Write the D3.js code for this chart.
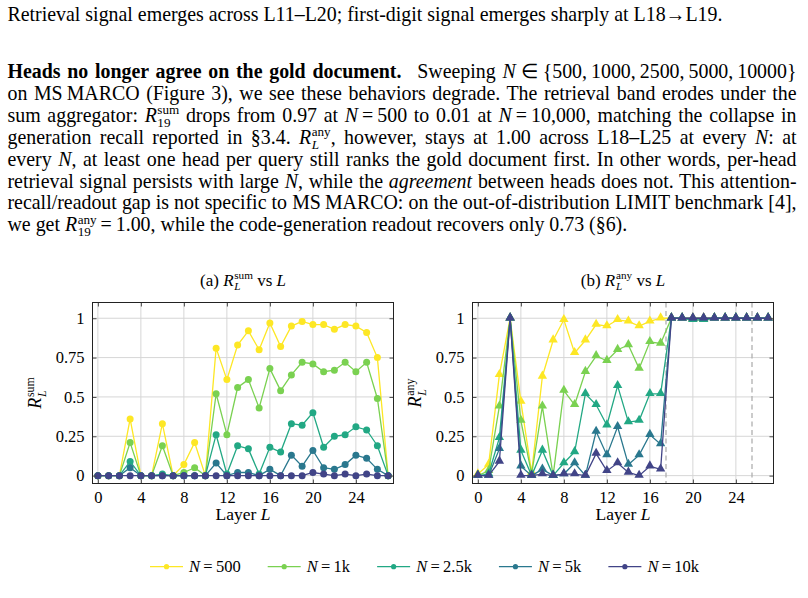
<!DOCTYPE html>
<html>
<head>
<meta charset="utf-8">
<script src="https://cdn.jsdelivr.net/npm/d3@7"></script>
<style>
body { margin: 0; background: #fff; width: 808px; height: 598px; overflow: hidden; position: relative;
       font-family: "Liberation Serif", "Times New Roman", serif; color: #000; }
#text { position: absolute; left: 7.5px; top: 0; width: 789px; font-size: 19.9px; }
.ln { position: absolute; left: 0; top: 0; white-space: nowrap; display: inline-block; line-height: 22px; }
.probe { display: inline-block; width: 0; height: 0; vertical-align: baseline; }
.ss { display: inline-block; font-size: 0.66em; line-height: 0.95; vertical-align: -5px; text-align: left; margin-left: 0.04em; }
.ss span { display: block; }
.it { font-style: italic; }
.q { display: inline-block; width: 0.8em; }
svg { position: absolute; left: 0; top: 0; }
svg text { font-family: "Liberation Serif", "Times New Roman", serif; fill: #000; }
</style>
</head>
<body>
<div id="text"></div>
<svg id="fig" width="808" height="598"></svg>
<script>
// Layers on the x axis
var layers = [0, 1, 2, 3, 4, 5, 6, 7, 8, 9, 10, 11, 12, 13, 14, 15, 16, 17, 18, 19, 20, 21, 22, 23, 24, 25, 26, 27];
var xTicks = [0, 4, 8, 12, 16, 20, 24];
var yTicks = [0, 0.25, 0.5, 0.75, 1];
var yTickLabels = ["0", "0.25", "0.5", "0.75", "1"];
var legendValues = ["500", "1k", "2.5k", "5k", "10k"];
var colors = ["#fde725", "#7ad151", "#22a884", "#2a788e", "#414487"];
var dashedLayers = [17.5, 25.5];

// (a) R_L^sum
var sumN500  = [0, 0, 0, 0.36, 0, 0, 0.33, 0, 0.07, 0.21, 0, 0.81, 0.61, 0.83, 0.92, 0.80, 0.97, 0.82, 0.95, 0.98, 0.96, 0.96, 0.93, 0.96, 0.95, 0.91, 0.75, 0];
var sumN1k   = [0, 0, 0, 0.21, 0, 0, 0.19, 0, 0.02, 0.05, 0, 0.52, 0.26, 0.56, 0.61, 0.43, 0.68, 0.54, 0.64, 0.72, 0.71, 0.66, 0.67, 0.72, 0.66, 0.72, 0.49, 0];
var sumN2500 = [0, 0, 0, 0.09, 0, 0, 0.01, 0, 0, 0, 0, 0.26, 0.01, 0.19, 0.17, 0.01, 0.18, 0.15, 0.33, 0.32, 0.40, 0.18, 0.25, 0.26, 0.31, 0.29, 0.19, 0];
var sumN5k   = [0, 0, 0, 0.05, 0, 0, 0, 0, 0, 0, 0, 0.08, 0, 0.02, 0.02, 0, 0.04, 0, 0.13, 0.06, 0.16, 0.05, 0.04, 0.07, 0.13, 0.11, 0.04, 0];
var sumN10k  = [0, 0, 0, 0, 0, 0, 0, 0, 0, 0, 0, 0, 0, 0, 0, 0, 0, 0, 0, 0, 0.02, 0.01, 0, 0.01, 0, 0.01, 0, 0];

// (b) R_L^any
var anyN500  = [0.01, 0.07, 0.64, 1, 0.47, 0.02, 0.63, 0.86, 0.99, 0.78, 0.86, 0.96, 0.95, 0.99, 0.98, 0.95, 0.98, 1, 1, 1, 1, 1, 1, 1, 1, 1, 1, 1];
var anyN1k   = [0, 0.03, 0.44, 1, 0.35, 0.01, 0.44, 0, 0.54, 0.45, 0.66, 0.76, 0.73, 0.80, 0.83, 0.68, 0.85, 0.84, 1, 1, 0.99, 0.99, 1, 1, 1, 1, 1, 1];
var anyN2500 = [0, 0.01, 0.24, 1, 0.16, 0, 0.16, 0, 0.08, 0.15, 0.52, 0.45, 0.32, 0.57, 0.34, 0.35, 0.52, 0.52, 1, 1, 0.99, 0.99, 1, 1, 1, 1, 1, 1];
var anyN5k   = [0, 0, 0.17, 1, 0.06, 0, 0.04, 0, 0.01, 0.08, 0, 0.28, 0.13, 0.31, 0.07, 0.13, 0.26, 0.20, 1, 1, 1, 1, 1, 1, 1, 1, 1, 1];
var anyN10k  = [0, 0, 0.09, 1, 0, 0, 0.01, 0, 0.01, 0.01, 0, 0.14, 0.03, 0.08, 0.02, 0, 0.06, 0.04, 1, 1, 1, 1, 1, 1, 1, 1, 1, 1];

// ---------- body text ----------
function R(sup, sub, subIt) {
    return '<i>R</i><span class="ss"><span>' + sup + '</span><span' + (subIt ? ' class="it"' : '') + '>' + sub + '</span></span>';
}
var eq = "\u2009=\u2009";
var lines = [
    'Retrieval signal emerges across L11\u2013L20; first-digit signal emerges sharply at L18\u2192L19.',
    '<b>Heads no longer agree on the gold document.</b><span class="q"></span>Sweeping <i>N</i>\u2005\u2208\u2005{500,\u20091000,\u20092500,\u20095000,\u200910000}',
    'on MS\u2009MARCO (Figure 3), we see these behaviors degrade. The retrieval band erodes under the',
    'sum aggregator: ' + R("sum", "19", false) + ' drops from 0.97 at <i>N</i>' + eq + '500 to 0.01 at <i>N</i>' + eq + '10,000, matching the collapse in',
    'generation recall reported in \u00a73.4. ' + R("any", "L", true) + ', however, stays at 1.00 across L18\u2013L25 at every <i>N</i>: at',
    'every <i>N</i>, at least one head per query still ranks the gold document first. In other words, per-head',
    'retrieval signal persists with large <i>N</i>, while the <i>agreement</i> between heads does not. This attention-',
    'recall/readout gap is not specific to MS\u2009MARCO: on the out-of-distribution LIMIT benchmark [4],',
    'we get ' + R("any", "19", false) + eq + '1.00, while the code-generation readout recovers only 0.73 (\u00a76).'
];
var baselines = [20.5, 78, 99.9, 121.8, 143.7, 165.6, 187.5, 209.4, 231.3];
var justified = [false, true, true, true, true, true, true, true, false];

var textBox = document.getElementById("text");
lines.forEach(function(html, i) {
    var div = document.createElement("div");
    div.className = "ln";
    div.innerHTML = '<span class="probe"></span>' + html;
    textBox.appendChild(div);
    if (justified[i]) {
        var w = div.getBoundingClientRect().width;
        var n = div.textContent.split(" ").length - 1;
        div.style.wordSpacing = ((789 - w) / n) + "px";
    }
    var probeTop = div.querySelector(".probe").getBoundingClientRect().top;
    div.style.top = (baselines[i] - probeTop) + "px";
});

// ---------- figure ----------
var svg = d3.select("#fig");
var plotTop = 302.5, plotBottom = 483.5;
var y = d3.scaleLinear().domain([-0.05, 1.1]).range([plotBottom, plotTop]);

// italic R with stacked superscript / subscript
function mathR(text, sup, sub, fs) {
    text.append("tspan").attr("font-style", "italic").text("R");
    var s = text.append("tspan").attr("font-size", fs * 0.66).attr("dx", fs * 0.04).attr("dy", -fs * 0.4).text(sup);
    var sw = s.node().getComputedTextLength();
    var b = text.append("tspan").attr("font-size", fs * 0.66).attr("font-style", "italic")
        .attr("dx", -sw).attr("dy", fs * 0.66).text(sub);
    var bw = b.node().getComputedTextLength();
    return {dx: Math.max(sw, bw) - bw, dy: -fs * 0.26};
}

var panels = [
    {tag: "(a) ", sup: "sum", left: 92.5, right: 393.5, ylabX: 36, marker: "circle",
     series: [sumN500, sumN1k, sumN2500, sumN5k, sumN10k], dashed: []},
    {tag: "(b) ", sup: "any", left: 472.5, right: 773.5, ylabX: 416, marker: "triangle",
     series: [anyN500, anyN1k, anyN2500, anyN5k, anyN10k], dashed: dashedLayers}
];

panels.forEach(function(p) {
    var x = d3.scaleLinear().domain([-0.5, 27.5]).range([p.left, p.right]);
    var g = svg.append("g");

    // grid
    g.append("g").selectAll("line").data(xTicks).join("line")
        .attr("x1", d => x(d)).attr("x2", d => x(d))
        .attr("y1", plotTop).attr("y2", plotBottom)
        .attr("stroke", "#d6d6d6").attr("stroke-width", 1);
    g.append("g").selectAll("line").data(yTicks).join("line")
        .attr("x1", p.left).attr("x2", p.right)
        .attr("y1", d => y(d)).attr("y2", d => y(d))
        .attr("stroke", "#d6d6d6").attr("stroke-width", 1);

    // dashed markers
    g.append("g").selectAll("line").data(p.dashed).join("line")
        .attr("x1", d => x(d)).attr("x2", d => x(d))
        .attr("y1", plotTop).attr("y2", plotBottom)
        .attr("stroke", "#b0b0b0").attr("stroke-width", 1.3)
        .attr("stroke-dasharray", "5,3.5");

    // series
    var line = d3.line().x((d, i) => x(layers[i])).y(d => y(d));
    var tri = d3.symbol().type(d3.symbolTriangle).size(38);
    p.series.forEach(function(vals, k) {
        g.append("path").datum(vals)
            .attr("d", line)
            .attr("fill", "none")
            .attr("stroke", colors[k])
            .attr("stroke-width", 1.3);
        if (p.marker == "circle") {
            g.append("g").selectAll("circle").data(vals).join("circle")
                .attr("cx", (d, i) => x(layers[i]))
                .attr("cy", d => y(d))
                .attr("r", 3.5)
                .attr("fill", colors[k]);
        } else {
            g.append("g").selectAll("path").data(vals).join("path")
                .attr("d", tri)
                .attr("transform", (d, i) => "translate(" + x(layers[i]) + "," + (y(d) - 0.5) + ")")
                .attr("fill", colors[k]);
        }
    });

    // axes (ticks inside the box)
    var axB = g.append("g").attr("transform", "translate(0," + plotBottom + ")")
        .call(d3.axisBottom(x).tickValues(xTicks).tickSize(-4).tickPadding(7.5));
    var axT = g.append("g").attr("transform", "translate(0," + plotTop + ")")
        .call(d3.axisTop(x).tickValues(xTicks).tickSize(-4).tickFormat(""));
    var axL = g.append("g").attr("transform", "translate(" + p.left + ",0)")
        .call(d3.axisLeft(y).tickValues(yTicks).tickSize(-4).tickPadding(8).tickFormat((d, i) => yTickLabels[i]));
    var axR = g.append("g").attr("transform", "translate(" + p.right + ",0)")
        .call(d3.axisRight(y).tickValues(yTicks).tickSize(-4).tickFormat(""));
    [axB, axT, axL, axR].forEach(function(a) {
        a.select(".domain").remove();
        a.selectAll(".tick line").attr("stroke", "#4a4a4a");
        a.selectAll("text").attr("font-size", 16.5).attr("font-family", null).attr("fill", "#000");
    });

    // frame
    g.append("rect")
        .attr("x", p.left).attr("y", plotTop)
        .attr("width", p.right - p.left).attr("height", plotBottom - plotTop)
        .attr("fill", "none").attr("stroke", "#222").attr("stroke-width", 1);

    var cx = (p.left + p.right) / 2;

    // title
    var fs = 17;
    var t = g.append("text").attr("x", cx).attr("y", 285.5).attr("text-anchor", "middle").attr("font-size", fs);
    t.append("tspan").text(p.tag);
    var r = mathR(t, p.sup, "L", fs);
    t.append("tspan").attr("dx", r.dx).attr("dy", r.dy).text(" vs ");
    t.append("tspan").attr("font-style", "italic").text("L");

    // x label
    var xl = g.append("text").attr("x", cx).attr("y", 520).attr("text-anchor", "middle").attr("font-size", 17.5);
    xl.append("tspan").text("Layer ");
    xl.append("tspan").attr("font-style", "italic").text("L");

    // y label
    var yl = g.append("text").attr("text-anchor", "middle").attr("font-size", 18)
        .attr("transform", "translate(" + (p.ylabX + 5) + "," + ((plotTop + plotBottom) / 2) + ") rotate(-90)");
    mathR(yl, p.sup, "L", 18);
});

// legend
var legend = svg.append("g");
var lx = 150, ly = 566.7;
legendValues.forEach(function(v, k) {
    legend.append("line")
        .attr("x1", lx).attr("x2", lx + 33).attr("y1", ly).attr("y2", ly)
        .attr("stroke", colors[k]).attr("stroke-width", 1.3);
    legend.append("circle").attr("cx", lx + 16.5).attr("cy", ly).attr("r", 2.6).attr("fill", colors[k]);
    var tx = legend.append("text").attr("x", lx + 39).attr("y", ly + 5.5).attr("font-size", 16.5);
    tx.append("tspan").attr("font-style", "italic").text("N");
    tx.append("tspan").text("\u2009=\u2009" + v);
    lx += 39 + tx.node().getComputedTextLength() + 27;
});
</script>
</body>
</html>
